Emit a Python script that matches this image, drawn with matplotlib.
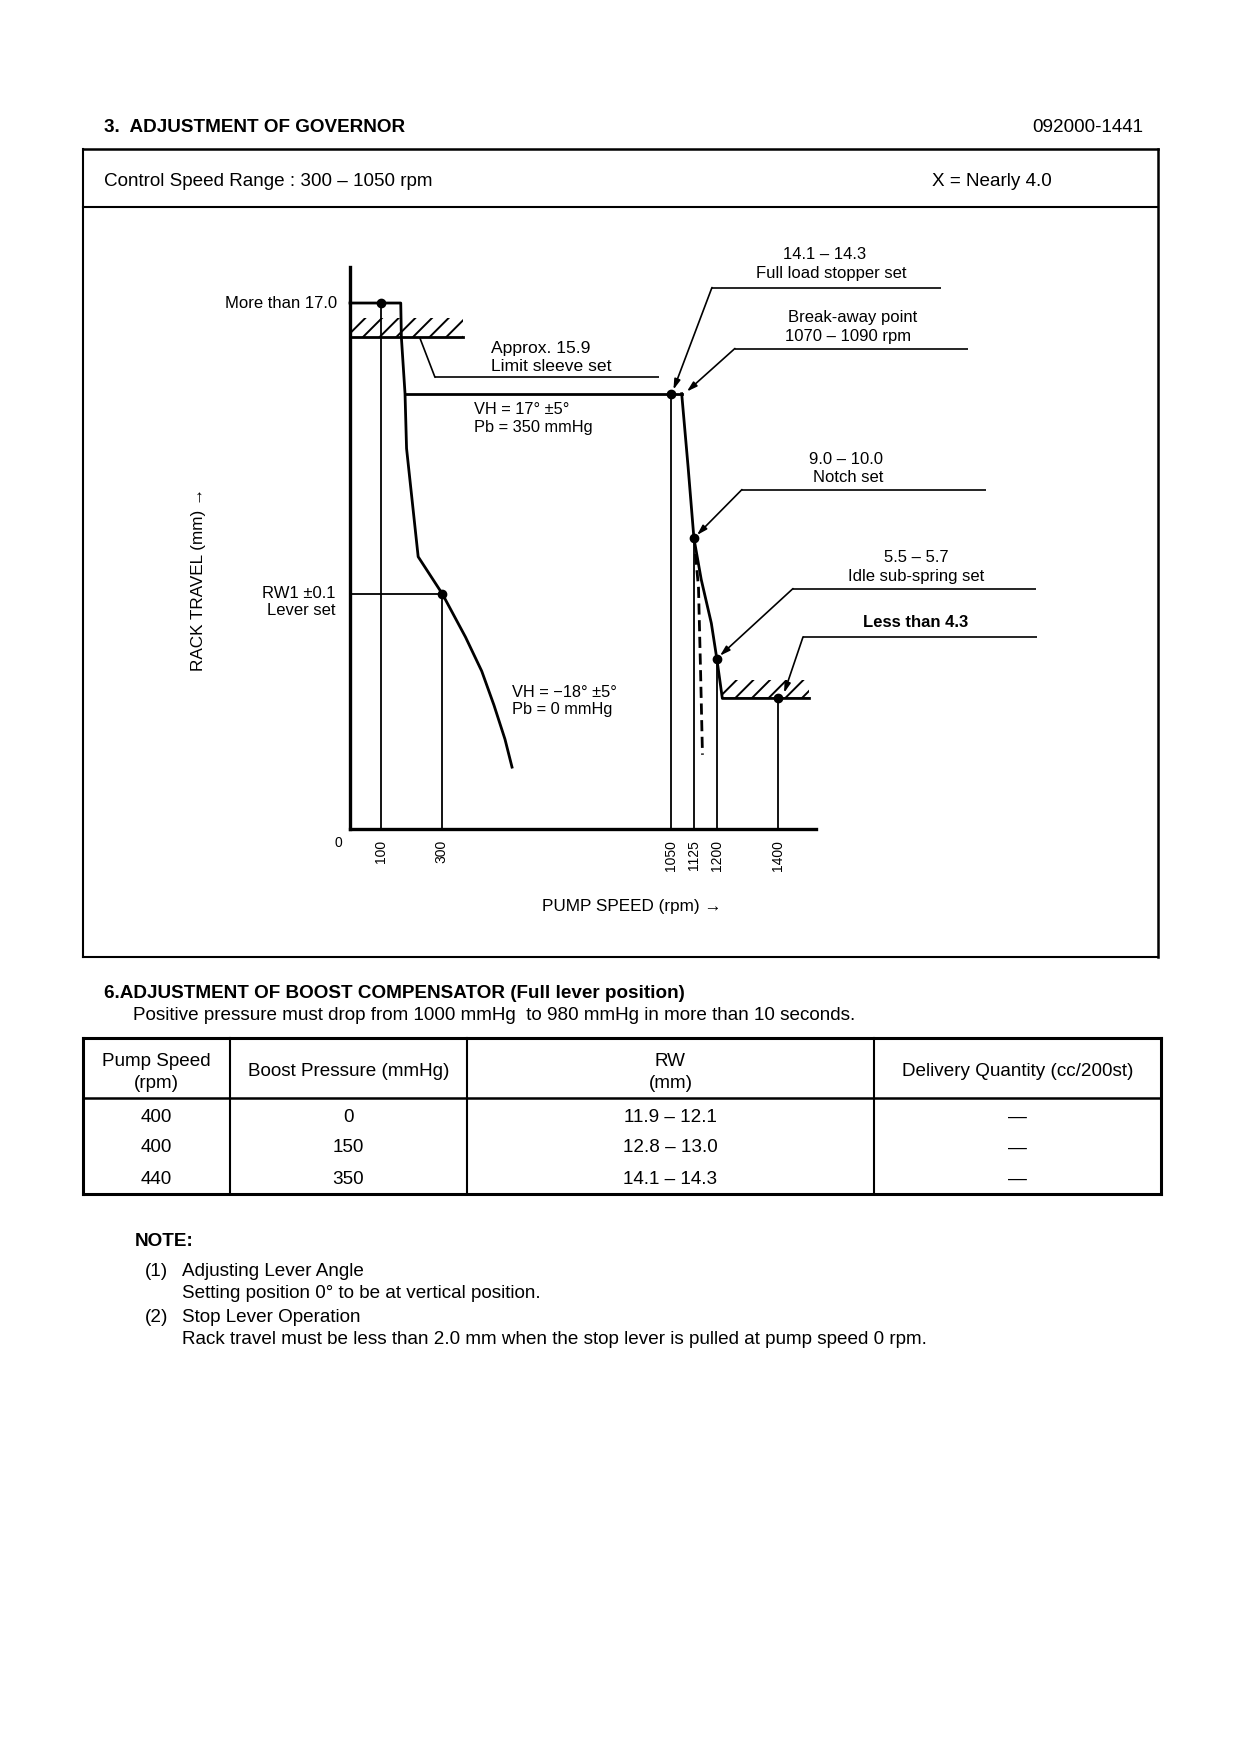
import matplotlib.pyplot as plt
import numpy as np
from matplotlib.lines import Line2D
from matplotlib.patches import Rectangle

plt.rcParams['font.family'] = ['Liberation Sans', 'DejaVu Sans']
plt.rcParams['hatch.linewidth'] = 1.4
plt.rcParams['lines.solid_capstyle'] = 'projecting'

W, H = 1240, 1754

# governor characteristic (pump speed rpm, rack travel mm)
gov_rpm = [0, 166, 168, 180, 185, 223, 302, 378, 431, 471, 507, 530]
gov_mm = [17.0, 17.0, 15.9, 14.07, 12.3, 8.8, 7.6, 6.2, 5.1, 4.0, 2.9, 2.0]
full_rpm = [180, 1050, 1085]
full_mm = [14.07, 14.07, 14.07]
droop_rpm = [1085, 1106, 1125, 1149, 1182, 1200, 1218, 1503]
droop_mm = [14.07, 11.7, 9.4, 8.06, 6.65, 5.5, 4.22, 4.22]
dash_rpm = [1130, 1140, 1147, 1153]
dash_mm = [8.9, 7.8, 5.0, 2.4]

point_rpm = [100, 300, 1050, 1125, 1200, 1400]
point_mm = [17.0, 7.6, 14.07, 9.4, 5.5, 4.22]
tick_rpm = [100, 300, 1050, 1125, 1200, 1400]

limit_mm = 15.9
limit_rpm = 370
idle_stop_mm = 4.22
idle_stop_rpm = [1218, 1503]
x_end = 1523
y_top = 18.15

# boost compensator table
col_heads = [['Pump Speed', '(rpm)'], ['Boost Pressure (mmHg)'], ['RW', '(mm)'],
             ['Delivery Quantity (cc/200st)']]
pump_speed = ['400', '400', '440']
boost_pressure = ['0', '150', '350']
rw_range = ['11.9 \u2013 12.1', '12.8 \u2013 13.0', '14.1 \u2013 14.3']
delivery = ['\u2014', '\u2014', '\u2014']


def fx(x):
    return x / W


def fy(y):
    return 1 - y / H


def hline(x0, x1, y, lw=1.5):
    fig.add_artist(Line2D([fx(x0), fx(x1)], [fy(y), fy(y)], lw=lw, color='k',
                          solid_capstyle='projecting'))


def vline(x, y0, y1, lw=1.5):
    fig.add_artist(Line2D([fx(x), fx(x)], [fy(y0), fy(y1)], lw=lw, color='k',
                          solid_capstyle='projecting'))


def ftext(x, y, s, **kw):
    kw.setdefault('fontsize', 13.6)
    kw.setdefault('va', 'center')
    fig.text(fx(x), fy(y + 2), s, **kw)


fig = plt.figure(figsize=(12.4, 17.54), dpi=100, facecolor='w')

# header
ftext(104, 125, '3.  ADJUSTMENT OF GOVERNOR', weight='bold')
ftext(1143, 125, '092000-1441', ha='right')

# governor box
hline(83, 1158, 149, 1.8)
hline(83, 1158, 207, 1.5)
hline(83, 1158, 957, 1.5)
vline(83, 149, 957, 1.5)
vline(1158, 149, 957, 1.8)
ftext(104, 179, 'Control Speed Range : 300 \u2013 1050 rpm')
ftext(932, 179, 'X = Nearly 4.0')

# chart axes filling the box
ax = fig.add_axes([fx(83), fy(957), fx(1158) - fx(83), fy(207) - fy(957)])
ax.set_xlim((83 - 350) / 0.3057, (1158 - 350) / 0.3057)
ax.set_ylim((829 - 957) / 30.94, (829 - 207) / 30.94)
ax.axis('off')

# axis lines
ax.plot([0, 0], [0, y_top], color='k', lw=2.4)
ax.plot([0, x_end], [0, 0], color='k', lw=2.4)

# hatched stops
ax.add_patch(Rectangle((0, limit_mm), limit_rpm, 0.6, hatch='//', fill=False, lw=0))
ax.plot([0, limit_rpm], [limit_mm, limit_mm], color='k', lw=2)
ax.add_patch(Rectangle((idle_stop_rpm[0], idle_stop_mm), idle_stop_rpm[1] - idle_stop_rpm[0], 0.6,
                       hatch='//', fill=False, lw=0))

# curves
ax.plot(gov_rpm, gov_mm, color='k', lw=2)
ax.plot(full_rpm, full_mm, color='k', lw=2)
ax.plot(droop_rpm, droop_mm, color='k', lw=2)
ax.plot(dash_rpm, dash_mm, color='k', lw=2, ls=(0, (4, 2)), dash_capstyle='butt')

# guide lines to the axes
for r, m in zip(point_rpm, point_mm):
    ax.plot([r, r], [0, m], color='k', lw=1.3)
ax.plot([0, point_rpm[1]], [point_mm[1], point_mm[1]], color='k', lw=1.3)
ax.plot(point_rpm, point_mm, 'o', color='k', ms=6)

# leaders (tip, elbow, end)
leaders = [
    [(229, 15.86), (278, 14.6), (1011, 14.6)],
    [(1058, 14.2), (1184, 17.5), (1933, 17.5)],
    [(1102, 14.14), (1259, 15.53), (2022, 15.53)],
    [(1135, 9.5), (1282, 10.97), (2081, 10.97)],
    [(1210, 5.6), (1449, 7.77), (2244, 7.77)],
    [(1420, 4.4), (1482, 6.21), (2247, 6.21)],
]
for k, (tip, elbow, end) in enumerate(leaders):
    ax.plot([elbow[0], end[0]], [elbow[1], end[1]], color='k', lw=1.2, solid_capstyle='butt')
    style = '-' if k == 0 else '-|>,head_length=0.6,head_width=0.18'
    ax.annotate('', xy=tip, xytext=elbow,
                arrowprops=dict(arrowstyle=style, color='k', lw=1.2, shrinkA=0, shrinkB=0))

# labels
fs = 12
ax.text(-42, 17.0, 'More than 17.0', ha='right', va='center', fontsize=fs)
ax.text(461, 15.53, 'Approx. 15.9', va='center', fontsize=12.6)
ax.text(461, 14.95, 'Limit sleeve set', va='center', fontsize=12.6)
ax.text(406, 13.56, 'VH = 17\u00b0 \u00b15\u00b0', va='center', fontsize=11.8)
ax.text(406, 12.98, 'Pb = 350 mmHg', va='center', fontsize=11.8)
ax.text(-46, 7.6, 'RW1 \u00b10.1', ha='right', va='center', fontsize=fs)
ax.text(-46, 7.05, 'Lever set', ha='right', va='center', fontsize=fs)
ax.text(530, 4.4, 'VH = \u221218\u00b0 \u00b15\u00b0', va='center', fontsize=11.8)
ax.text(530, 3.85, 'Pb = 0 mmHg', va='center', fontsize=11.8)
ax.text(1554, 18.58, '14.1 \u2013 14.3', ha='center', va='center', fontsize=fs)
ax.text(1573, 17.96, 'Full load stopper set', ha='center', va='center', fontsize=fs)
ax.text(1645, 16.54, 'Break-away point', ha='center', va='center', fontsize=fs)
ax.text(1629, 15.92, '1070 \u2013 1090 rpm', ha='center', va='center', fontsize=fs)
ax.text(1623, 11.94, '9.0 \u2013 10.0', ha='center', va='center', fontsize=fs)
ax.text(1630, 11.36, 'Notch set', ha='center', va='center', fontsize=fs)
ax.text(1851, 8.77, '5.5 \u2013 5.7', ha='center', va='center', fontsize=fs)
ax.text(1851, 8.16, 'Idle sub-spring set', ha='center', va='center', fontsize=fs)
ax.text(1851, 6.67, 'Less than 4.3', ha='center', va='center', fontsize=fs, weight='bold')
ax.text(922, -2.52, 'PUMP SPEED (rpm) \u2192', ha='center', va='center', fontsize=12.3)
ax.text(-494, 8.06, 'RACK TRAVEL (mm) \u2192', ha='center', va='center', fontsize=12.3, rotation=90)
ax.text(-39, -0.45, '0', ha='center', va='center', fontsize=10)
for r in tick_rpm:
    ax.text(r, -0.36, str(r), ha='center', va='top', rotation=90, fontsize=10)

# boost compensator section
ftext(104, 991, '6.ADJUSTMENT OF BOOST COMPENSATOR (Full lever position)', weight='bold')
ftext(133, 1014, 'Positive pressure must drop from 1000 mmHg  to 980 mmHg in more than 10 seconds.')

tx = [83, 230, 467, 874, 1161]
ty = [1038, 1098, 1194]
hline(tx[0], tx[-1], ty[0], 2.2)
hline(tx[0], tx[-1], ty[1], 1.8)
hline(tx[0], tx[-1], ty[2], 2.2)
for i, x in enumerate(tx):
    vline(x, ty[0], ty[2], 2.2 if i in (0, len(tx) - 1) else 1.5)
for i, head in enumerate(col_heads):
    cx = (tx[i] + tx[i + 1]) / 2
    if len(head) == 2:
        ftext(cx, 1059, head[0], ha='center')
        ftext(cx, 1081, head[1], ha='center')
    else:
        ftext(cx, 1070, head[0], ha='center')
row_y = [1115, 1146, 1177]
for j, y in enumerate(row_y):
    for i, col in enumerate([pump_speed, boost_pressure, rw_range, delivery]):
        ftext((tx[i] + tx[i + 1]) / 2, y, col[j], ha='center')

# notes
ftext(135, 1239, 'NOTE:', weight='bold')
ftext(145, 1269, '(1)')
ftext(182, 1269, 'Adjusting Lever Angle')
ftext(182, 1292, 'Setting position 0\u00b0 to be at vertical position.')
ftext(145, 1315, '(2)')
ftext(182, 1315, 'Stop Lever Operation')
ftext(182, 1337, 'Rack travel must be less than 2.0 mm when the stop lever is pulled at pump speed 0 rpm.')

fig.savefig('out.png', dpi=100, facecolor='w')
